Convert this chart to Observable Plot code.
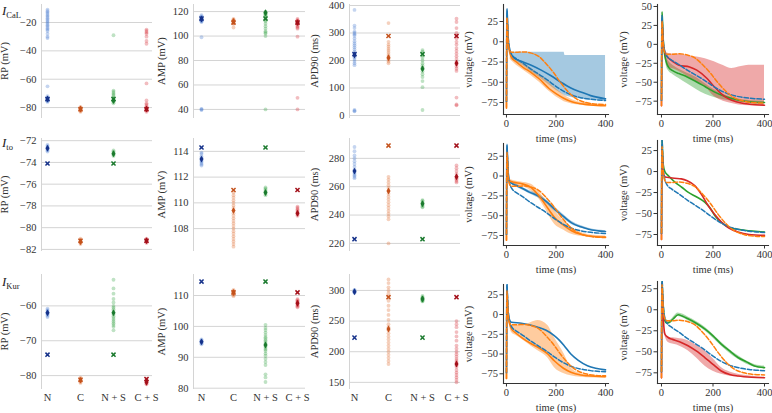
<!DOCTYPE html>
<html><head><meta charset="utf-8">
<script src="https://cdn.jsdelivr.net/npm/d3@7"></script>
<script src="https://cdn.jsdelivr.net/npm/@observablehq/plot@0.6"></script>
<style>
body{margin:0;background:#fff;}
#fig{position:relative;width:772px;height:413px;overflow:hidden;background:#fff;font-family:"Liberation Serif",serif;color:#222;}
#fig svg{position:absolute;}
#fig svg text{font-family:"Liberation Serif","Times New Roman",Times,serif !important;font-weight:400 !important;}
.rowlab{position:absolute;left:2px;font-size:13px;line-height:13px;white-space:nowrap;}
.rowlab i{font-style:italic;}
.rowlab sub{font-size:8.5px;vertical-align:-3px;}
</style></head><body><div id="fig"></div><script>
// ---------- categories ----------
const groups = ["N", "C", "N+S", "C+S"];
const groupLabels = ["N", "C", "N + S", "C + S"];

// ---------- I_CaL strip data ----------
const caL_RP_N = [-11,-12,-13,-14,-15,-16,-17,-18,-19,-20,-21,-22,-23,-24,-25,-26,-28,-30,-31,-65,-72,-73,-73.5,-74,-74,-74.5,-75,-75.5,-76];
const caL_RP_C = [-79.5,-80,-80.5,-81,-81,-81.5,-82,-82.5,-83];
const caL_RP_NS = [-29,-68,-69,-70,-71,-72,-73,-74,-74.5,-75,-75.5,-76,-77];
const caL_RP_CS = [-25,-26,-27,-28,-30,-33,-35,-63,-75,-77,-78,-79,-80,-80.5,-81,-81.5,-82,-83];
const caL_RP_med = [-74,-81,-75,-81];
const caL_RP_def = [-74,-81.2,-74,-81.2];

const caL_AMP_N = [117,116,115.5,115,114.5,114,113.5,113,112.5,112,111.5,99,40.5,40,39.5];
const caL_AMP_C = [114,113.5,113,112.5,112,111.5,111,110.5,110,107];
const caL_AMP_NS = [120,119.5,119,118.5,118,117.5,117,116,115,114,113,112,110,108,106,104,103,102,100,40];
const caL_AMP_CS = [114,113,112.5,112,111.5,111,110.5,110,109,108,107,106,99.5,49.5,40];
const caL_AMP_med = [114,112,119,111];
const caL_AMP_def = [114.3,111,114.3,111];

const caL_APD_N = [384,327,318,305,300,295,290,280,270,262,255,248,240,232,225,218,212,205,198,190,183,20,17,15];
const caL_APD_C = [336,268,258,250,242,235,228,220,214,208,202,196,190];
const caL_APD_NS = [238,232,225,218,210,200,190,182,175,168,160,150,140,125,103,20];
const caL_APD_CS = [352,340,318,300,290,280,268,258,245,235,225,215,205,195,185,178,170,162,65,40,37];
const caL_APD_med = [220,210,170,190];
const caL_APD_def = [223,289,223,289];

// ---------- I_to strip data ----------
const to_RP_N = [-72.4,-72.5,-72.6,-72.7,-72.8,-72.9,-73.0];
const to_RP_C = [-81.0,-81.1,-81.2,-81.3,-81.4,-81.5];
const to_RP_NS = [-72.9,-73.0,-73.1,-73.2,-73.3,-73.4];
const to_RP_CS = [-81.0,-81.1,-81.2,-81.3,-81.4];
const to_RP_med = [-72.7,-81.3,-73.2,-81.2];
const to_RP_def = [-74.1,-81.2,-74.1,-81.2];

const to_AMP_N = [113.9,113.8,113.6,113.5,113.4,113.3,113.2,113.1,113.0,112.9];
const to_AMP_C = [110.8,110.6,110.4,110.2,110.0,109.8,109.6,109.4,109.2,109.0,108.8,108.6,108.4,108.2,108.0,107.8,107.6,107.4,107.2,107.0,106.8,106.6];
const to_AMP_NS = [111.2,111.1,111.0,110.9,110.8,110.7,110.6];
const to_AMP_CS = [109.7,109.6,109.5,109.4,109.3,109.2,109.1,109.0];
const to_AMP_med = [113.4,109.4,110.8,109.2];
const to_AMP_def = [114.3,111,114.3,111];

const to_APD_N = [288,285,282,280,278,276,274,272,271,270,269,268,267,266];
const to_APD_C = [267,265,263,261,259,257,255,253,251,249,247,245,243,241,239,237,220];
const to_APD_NS = [250.5,250,249,248,247,246,245.5];
const to_APD_CS = [275,273,271,269,267,266,265,264,263];
const to_APD_med = [271,257,248,267];
const to_APD_def = [223,289,223,289];

// ---------- I_Kur strip data ----------
const kur_RP_N = [-60.8,-61.2,-61.5,-61.8,-62,-62.2,-62.5,-62.8,-63.2];
const kur_RP_C = [-80.6,-80.9,-81.2,-81.5,-81.8,-82.1];
const kur_RP_NS = [-52.5,-55,-56.5,-58,-59,-60,-60.5,-61,-61.5,-62,-62.5,-63,-63.5,-64,-64.5,-65,-65.5,-66,-67];
const kur_RP_CS = [-81,-81.4,-81.8,-82.2,-82.5];
const kur_RP_med = [-62,-81.3,-62,-81.9];
const kur_RP_def = [-74,-81.2,-74,-81];

const kur_AMP_N = [95.8,95.5,95.2,95,94.8,94.5,94.2];
const kur_AMP_C = [111.8,111.5,111.2,111,110.7,110.4,110.1,109.8];
const kur_AMP_NS = [100.5,99.5,98.8,98,97.2,96.5,96,95.5,95,94.5,94,93.5,93,92.5,92,91.2,90.5,89.5,88.5,87.5,84.5,83.5,82];
const kur_AMP_CS = [108.8,108.5,108.2,108,107.7,107.4,107.1,106.8,106.5,106.2];
const kur_AMP_med = [95,111,94,107.5];
const kur_AMP_def = [114.5,111,114.5,111];

const kur_APD_N = [301,300,299,298,297,296];
const kur_APD_C = [318,312,305,300,295,290,283,275,268,260,252,245,240,235,230,225,220,215,210,205,200,195,190,185,180];
const kur_APD_NS = [291,289,288,287,286,285,284,283,282];
const kur_APD_CS = [250,245,240,232,225,218,210,205,200,196,192,188,185,182,178,175,170,166,162,158,154,150];
const kur_APD_med = [298,237,286,180];
const kur_APD_def = [223,289,223,289];

// ---------- voltage traces [time ms, mV] ----------
const base_N = [[0,-74],[1,10],[2,38],[4,25],[7,5],[12,-8],[20,-15],[40,-21],[60,-25],[100,-34],[130,-40],[160,-46],[195,-54],[230,-61],[260,-65.5],[300,-69],[340,-71],[400,-72.5]];
const base_C = [[0,-81],[1,0],[2,30],[4,20],[7,0],[12,-10],[20,-13],[40,-13],[70,-12.5],[100,-14],[130,-18],[160,-27],[190,-38],[220,-51],[250,-62],[280,-70],[320,-75],[360,-77],[400,-77.5]];

const caL_N_med = [[0,-74],[1,10],[2,41],[4,28],[7,5],[12,-8],[20,-16],[30,-20],[60,-24],[100,-29],[140,-35],[180,-42],[220,-50],[260,-57],[300,-62],[340,-66.5],[400,-70.5]];
const caL_N_band = [[12,-10,-10],[20,-22,-13],[40,-25,-13],[67,-29.5,-13],[100,-37,-13],[133,-44,-13],[167,-52,-13],[200,-60,-13],[233,-66,-13],[236,-66.5,-17],[267,-69,-17],[333,-72,-17],[400,-72.6,-17]];
const caL_C_med = [[0,-82],[1,0],[2,30],[4,20],[7,0],[12,-12],[20,-19],[40,-25],[67,-31.5],[100,-38],[133,-46],[173,-58],[200,-64],[233,-70],[267,-74.5],[300,-76.5],[340,-78],[400,-79]];
const caL_C_band = [[15,-22,-16],[40,-29,-22],[67,-35,-27],[100,-42,-33],[133,-50,-40],[167,-60,-49],[200,-68,-58],[233,-74,-66],[267,-77,-72],[300,-78.5,-75],[333,-79.5,-76],[400,-80,-78]];
const caL_NS_med = [[0,-74],[1,10],[2,43],[4,30],[7,5],[10,-8],[14,-17],[20,-25],[27,-30],[45,-35],[68,-38.6],[100,-43],[137,-49.6],[170,-56],[205,-62.7],[240,-68],[273,-71.5],[310,-74.5],[341,-75.9],[400,-76.8]];
const caL_NS_band = [[12,-14,-10],[20,-30,-18],[27,-35,-22],[45,-40,-28],[68,-45,-33],[100,-52,-38],[137,-60,-44],[170,-66,-52],[205,-70,-60],[240,-73,-66],[273,-75,-70],[340,-77,-74],[400,-78,-75]];
const caL_CS_med = [[0,-81],[1,0],[2,32],[4,20],[7,0],[10,-6],[14,-12],[27,-18],[45,-23],[68,-27.6],[109,-29.8],[137,-34],[177,-45],[205,-56],[246,-69],[273,-73.7],[310,-77.5],[341,-79],[400,-80.3]];
const caL_CS_band = [[12,-12,-8],[27,-30,-12],[50,-33,-13],[68,-36,-13],[100,-42,-15],[137,-50,-16.7],[170,-56,-19],[205,-69,-23],[240,-75,-28],[273,-78,-32],[300,-80,-30],[341,-81,-27.6],[400,-81.5,-27.6]];

const to_N_med = [[0,-74],[1,10],[2,40],[4,25],[7,5],[11,-6],[20,-9],[40,-12],[59,-14.7],[90,-20],[127,-25],[160,-32],[195,-42],[230,-51],[263,-59],[300,-64],[332,-67],[400,-70]];
const to_N_band = [[11,-8,-4],[40,-14,-10],[90,-22,-18],[127,-27.5,-22.5],[160,-34.5,-29.5],[195,-44.5,-39.5],[230,-53.5,-48.5],[263,-61,-57],[300,-65.5,-62.5],[332,-68,-66],[400,-71,-69]];
const to_C_med = [[0,-81],[1,0],[2,30],[4,20],[7,0],[11,-6],[31,-8],[59,-9.5],[100,-14.7],[141,-29],[170,-42],[195,-52.5],[230,-62],[263,-69],[300,-73.5],[332,-75.6],[400,-77]];
const to_C_band = [[11,-8,-4],[31,-11,-6],[59,-12.6,-7.5],[100,-19,-10.5],[127,-27,-18],[154,-40,-29],[195,-61,-44],[230,-68,-56],[263,-73.5,-65],[300,-76,-71],[332,-77,-74],[400,-77.7,-75.6]];
const to_NS_med = [[0,-74],[1,10],[2,40],[4,25],[7,8],[13,0],[26,-4.8],[52,-12.7],[80,-19],[103,-24.6],[135,-30],[168,-36.5],[190,-44],[206,-52],[230,-60],[258,-66],[290,-68.5],[323,-70],[400,-72]];
const to_CS_med = [[0,-81],[1,0],[2,30],[4,15],[8,-3],[15,-6.5],[26,-7],[50,-8],[77,-8.7],[100,-11],[129,-16.7],[155,-27],[181,-40.5],[206,-51],[232,-60],[260,-67],[297,-72],[340,-75],[400,-76]];

const kur_N_med = [[0,-74],[1,10],[2,38],[4,20],[8,0],[14,-8],[20,-9.7],[60,-11],[100,-13.5],[127,-16],[160,-20],[193,-26.7],[215,-33],[233,-39.4],[260,-50],[290,-58],[327,-64.8],[360,-68],[400,-70]];
const kur_C_med = [[0,-81],[1,0],[2,30],[4,15],[8,-5],[14,-13],[20,-18],[40,-24],[60,-28.8],[100,-37],[127,-41.5],[167,-50],[193,-58.5],[230,-68],[260,-73],[300,-76.5],[327,-77.5],[400,-78.8]];
const kur_C_band = [[12,-14,-8],[20,-22.5,-14],[40,-27,-14],[60,-31,-14],[100,-40,-10],[127,-45.8,-7.6],[167,-55,-14],[193,-67,-28.8],[233,-75,-50],[260,-77.5,-67],[300,-79.5,-75],[327,-80,-77.5],[400,-80.5,-78.8]];
const kur_NS_med = [[0,-74],[1,10],[2,38],[4,20],[8,0],[13,-12.8],[20,-16],[30,-15],[45,-11],[65,-6],[80,-7.5],[103,-10.8],[135,-16],[168,-22.8],[200,-31],[232,-40.8],[265,-49],[297,-56.8],[330,-62],[361,-66.8],[400,-68.8]];
const kur_NS_band = [[13,-15,-10.5],[30,-17,-13],[65,-8,-4],[103,-13,-8.5],[168,-25,-20.5],[232,-43,-38.5],[297,-59,-54.5],[361,-68.5,-65],[400,-70.5,-67]];
const kur_CS_med = [[0,-81],[1,0],[2,32],[4,10],[8,-15],[13,-28.8],[26,-33],[39,-34.8],[70,-38],[103,-42.8],[135,-49],[168,-56.8],[200,-65],[232,-72.8],[265,-77],[297,-78.8],[350,-80.3],[400,-80.8]];
const kur_CS_band = [[10,-28,-22],[26,-38.8,-32.8],[60,-42,-34],[103,-48.8,-36.8],[135,-57,-42],[168,-66.8,-48.8],[200,-73,-58],[232,-76.8,-68.8],[265,-79,-74],[297,-80,-76.8],[350,-81,-79],[400,-81.2,-80.4]];

// ---------- tick values ----------
const ticks_caL_RP = [-80,-60,-40,-20], ticks_caL_AMP = [40,60,80,100,120], ticks_caL_APD = [0,100,200,300,400];
const ticks_to_RP = [-82,-80,-78,-76,-74,-72], ticks_to_AMP = [108,110,112,114], ticks_to_APD = [220,240,260,280];
const ticks_kur_RP = [-80,-70,-60], ticks_kur_AMP = [80,90,100,110], ticks_kur_APD = [150,200,250,300];
const ticks_time = [0,200,400];
const ticks_volt = [-75,-50,-25,0,25], ticks_volt50 = [-75,-50,-25,0,25,50];

// ---------- colours ----------
const dotColors = ["#4f7fd1", "#e0743a", "#3da64d", "#d8383f"];
const darkColors = ["#16328a", "#c4521c", "#1b7a2e", "#a3101a"];
const lineBlue = "#1f77b4", lineOrange = "#ff7f0e", lineGreen = "#2ca02c", lineRed = "#d62728";

const fig = document.getElementById("fig");
const fmt = d3.format("d");
const FONT = "Liberation Serif";
const FS = 10.5;

function put(svg, left, top) {
  svg.style.left = left + "px"; svg.style.top = top + "px";
  fig.appendChild(svg);
}

function strip(c) {
  const pts = c.lists.flatMap((arr, i) => arr.map(v => ({g: groups[i], v, c: dotColors[i]})));
  const meds = c.med.map((v, i) => ({g: groups[i], v, c: darkColors[i]}));
  const defs = c.def.map((v, i) => ({g: groups[i], v, c: darkColors[i]}));
  const svg = Plot.plot({
    width: c.w, height: c.h, marginTop: c.mt, marginBottom: c.mb, marginLeft: c.ml, marginRight: c.mr,
    style: {fontFamily: FONT, fontSize: FS + "px", background: "none", color: "#333", overflow: "visible"},
    x: {type: "point", domain: groups, padding: c.pad},
    y: {domain: c.domain},
    color: {type: "identity"},
    marks: [
      Plot.gridY(c.ticks, {stroke: "#d4d4d4", strokeOpacity: 1, strokeWidth: 1}),
      Plot.frame({anchor: "left", stroke: "#d4d4d4", strokeWidth: 1}),
      Plot.axisY(c.ticks, {tickSize: 0, tickPadding: 5, tickFormat: fmt, label: c.label, labelAnchor: "center", labelArrow: "none", labelOffset: c.lo, fontSize: FS, fontFamily: FONT}),
      c.showX ? Plot.axisX({tickSize: 0, tickPadding: 5, tickFormat: d => groupLabels[groups.indexOf(d)], label: null, fontSize: FS, fontFamily: FONT}) : Plot.axisX({ticks: [], label: null}),
      Plot.dot(pts, {x: "g", y: "v", r: 1.9, fill: "c", fillOpacity: 0.33}),
      Plot.dot(meds, {x: "g", y: "v", symbol: "diamond", r: 2.1, fill: "c"}),
      Plot.dot(defs, {x: "g", y: "v", symbol: "times", r: 2, stroke: "c", strokeWidth: 1.5})
    ]
  });
  put(svg, c.left, c.top);
}

function volt(c) {
  const svg = Plot.plot({
    width: c.w, height: c.h, marginTop: c.mt, marginBottom: c.mb, marginLeft: c.ml, marginRight: c.mr,
    style: {fontFamily: FONT, fontSize: FS + "px", background: "none", color: "#333", overflow: "visible"},
    x: {domain: c.xdom},
    y: {domain: c.ydom},
    marks: [
      ...c.bands.map(([data, col]) => Plot.areaY(data, {x: d => d[0], y1: d => d[1], y2: d => d[2], fill: col, fillOpacity: 0.4, curve: c.bandCurve || "monotone-x", clip: true})),
      ...c.solids.map(([data, col]) => Plot.line(data, {x: d => d[0], y: d => d[1], stroke: col, strokeWidth: 1.6, curve: "monotone-x", clip: true})),
      Plot.line(base_N, {x: d => d[0], y: d => d[1], stroke: lineBlue, strokeWidth: 1.5, strokeDasharray: "4.5,2", curve: "monotone-x", clip: true}),
      Plot.line(base_C, {x: d => d[0], y: d => d[1], stroke: lineOrange, strokeWidth: 1.5, strokeDasharray: "4.5,2", curve: "monotone-x", clip: true}),
      Plot.frame({anchor: "left", stroke: "#333", strokeWidth: 1.1}),
      Plot.frame({anchor: "bottom", stroke: "#333", strokeWidth: 1.1}),
      Plot.axisX(ticks_time, {tickSize: 3.5, tickPadding: 2, tickFormat: fmt, label: "time (ms)", labelAnchor: "center", labelArrow: "none", labelOffset: 27, fontSize: FS, fontFamily: FONT}),
      Plot.axisY(c.yticks, {tickSize: 3.5, tickPadding: 2, tickFormat: fmt, label: "voltage (mV)", labelAnchor: "center", labelArrow: "none", labelOffset: c.lo, fontSize: FS, fontFamily: FONT})
    ]
  });
  put(svg, c.left, c.top);
}

// column geometry
const C1 = {left: 0, w: 155, ml: 41, mr: 3, pad: 0.18, lo: 41};
const C2 = {left: 155, w: 152, ml: 38, mr: 2, pad: 0.21, lo: 36};
const C3 = {left: 307, w: 155, ml: 42, mr: 2, pad: 0.12, lo: 39};
const R1 = {top: 0, h: 122, mt: 4, mb: 5};
const R2 = {top: 128, h: 126, mt: 10, mb: 4};
const R3 = {top: 262, h: 151, mt: 12, mb: 25};

strip({...C1, ...R1, lists: [caL_RP_N, caL_RP_C, caL_RP_NS, caL_RP_CS], med: caL_RP_med, def: caL_RP_def, domain: [-87, -7.3], ticks: ticks_caL_RP, label: "RP (mV)"});
strip({...C2, ...R1, lists: [caL_AMP_N, caL_AMP_C, caL_AMP_NS, caL_AMP_CS], med: caL_AMP_med, def: caL_AMP_def, domain: [33.4, 125.8], ticks: ticks_caL_AMP, label: "AMP (mV)"});
strip({...C3, ...R1, lists: [caL_APD_N, caL_APD_C, caL_APD_NS, caL_APD_CS], med: caL_APD_med, def: caL_APD_def, domain: [-7.3, 403.6], ticks: ticks_caL_APD, label: "APD90 (ms)"});

strip({...C1, ...R2, lists: [to_RP_N, to_RP_C, to_RP_NS, to_RP_CS], med: to_RP_med, def: to_RP_def, domain: [-82.1, -71.8], ticks: ticks_to_RP, label: "RP (mV)"});
strip({...C2, ...R2, lists: [to_AMP_N, to_AMP_C, to_AMP_NS, to_AMP_CS], med: to_AMP_med, def: to_AMP_def, domain: [106.3, 115], ticks: ticks_to_AMP, label: "AMP (mV)"});
strip({...C3, ...R2, lists: [to_APD_N, to_APD_C, to_APD_NS, to_APD_CS], med: to_APD_med, def: to_APD_def, domain: [215, 294], ticks: ticks_to_APD, label: "APD90 (ms)"});

strip({...C1, ...R3, showX: true, lists: [kur_RP_N, kur_RP_C, kur_RP_NS, kur_RP_CS], med: kur_RP_med, def: kur_RP_def, domain: [-83.7, -51], ticks: ticks_kur_RP, label: "RP (mV)"});
strip({...C2, ...R3, showX: true, lists: [kur_AMP_N, kur_AMP_C, kur_AMP_NS, kur_AMP_CS], med: kur_AMP_med, def: kur_AMP_def, domain: [79.9, 116.8], ticks: ticks_kur_AMP, label: "AMP (mV)"});
strip({...C3, ...R3, showX: true, lists: [kur_APD_N, kur_APD_C, kur_APD_NS, kur_APD_CS], med: kur_APD_med, def: kur_APD_def, domain: [140, 326], ticks: ticks_kur_APD, label: "APD90 (ms)"});

// voltage panels
const C4 = {left: 455, w: 157, ml: 48, mr: 4, xdom: [-12, 412], lo: 39};
const C5 = {left: 612, w: 160, ml: 45, mr: 4, xdom: [-15.5, 415.5], lo: 38};

volt({...C4, top: 0, h: 142, mt: 4, mb: 28, ydom: [-89.8, 46], yticks: ticks_volt,
  bands: [[caL_N_band, lineBlue], [caL_C_band, lineOrange]], solids: [[caL_N_med, lineBlue], [caL_C_med, lineOrange]], bandCurve: "linear"});
volt({...C5, top: 0, h: 142, mt: 4, mb: 28, ydom: [-92.6, 52.6], yticks: ticks_volt50,
  bands: [[caL_NS_band, lineGreen], [caL_CS_band, lineRed]], solids: [[caL_NS_med, lineGreen], [caL_CS_med, lineRed]]});

volt({...C4, top: 140, h: 133, mt: 3, mb: 28, ydom: [-87.6, 41], yticks: ticks_volt,
  bands: [[to_N_band, lineBlue], [to_C_band, lineOrange]], solids: [[to_N_med, lineBlue], [to_C_med, lineOrange]]});
volt({...C5, top: 137, h: 136, mt: 3, mb: 28, ydom: [-88.1, 37], yticks: ticks_volt,
  bands: [], solids: [[to_NS_med, lineGreen], [to_CS_med, lineRed]]});

volt({...C4, top: 276, h: 137, mt: 8, mb: 30, ydom: [-87.3, 38], yticks: ticks_volt,
  bands: [[kur_C_band, lineOrange]], solids: [[kur_N_med, lineBlue], [kur_C_med, lineOrange]]});
volt({...C5, top: 276, h: 137, mt: 5, mb: 30, ydom: [-87.7, 33.6], yticks: ticks_volt,
  bands: [[kur_NS_band, lineGreen], [kur_CS_band, lineRed]], solids: [[kur_NS_med, lineGreen], [kur_CS_med, lineRed]]});

// row labels
function rowLabel(sub, top) {
  const d = document.createElement("div");
  d.className = "rowlab";
  d.style.top = top + "px";
  d.innerHTML = "<i>I</i><sub>" + sub + "</sub>";
  fig.appendChild(d);
}
rowLabel("CaL", 4);
rowLabel("to", 136);
rowLabel("Kur", 275);
</script></body></html>
